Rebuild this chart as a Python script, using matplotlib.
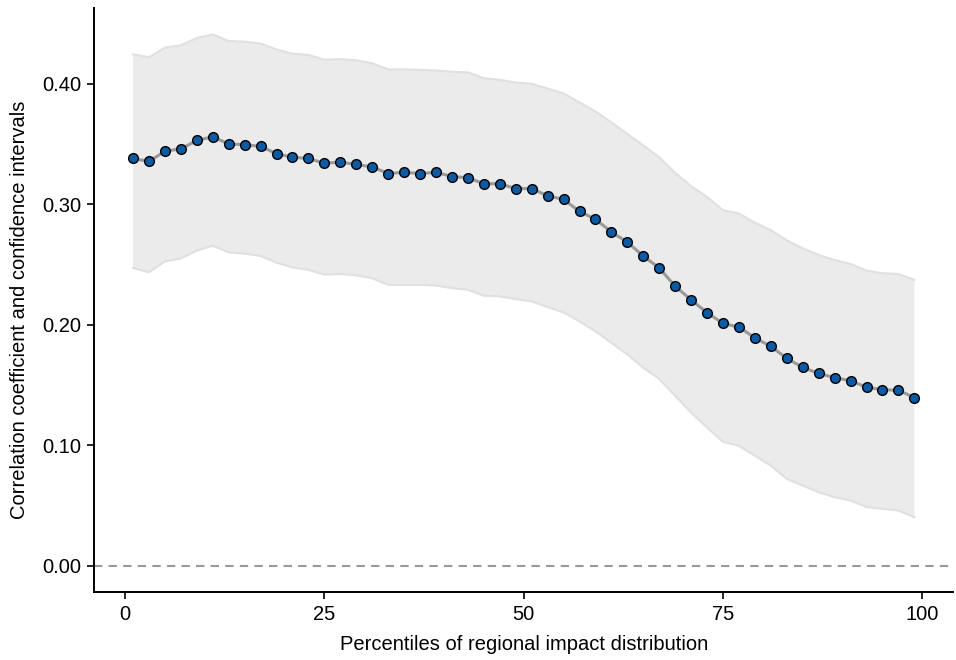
import numpy as np
import matplotlib
matplotlib.use('Agg')
import matplotlib.pyplot as plt

plt.rcParams['font.family'] = ['Liberation Sans', 'DejaVu Sans']

# percentiles 1, 3, ..., 99
pct = np.arange(1, 100, 2)

corr = [0.338, 0.3355, 0.344, 0.346, 0.353, 0.356, 0.350, 0.3495, 0.348, 0.342,
        0.339, 0.338, 0.334, 0.335, 0.333, 0.331, 0.3255, 0.3265, 0.3255, 0.3265,
        0.323, 0.322, 0.317, 0.317, 0.313, 0.313, 0.307, 0.304, 0.294, 0.2875,
        0.277, 0.2685, 0.257, 0.247, 0.232, 0.2205, 0.210, 0.201, 0.198, 0.189,
        0.182, 0.172, 0.1645, 0.1595, 0.156, 0.1535, 0.148, 0.146, 0.1455, 0.1395]

upper = [0.4245, 0.422, 0.430, 0.432, 0.438, 0.441, 0.4355, 0.435, 0.4335, 0.4285,
         0.425, 0.424, 0.420, 0.4205, 0.4195, 0.417, 0.412, 0.412, 0.4116, 0.411,
         0.410, 0.4095, 0.4046, 0.4033, 0.401, 0.400, 0.396, 0.392, 0.3845, 0.377,
         0.368, 0.3584, 0.3488, 0.339, 0.326, 0.315, 0.306, 0.295, 0.2923, 0.2846,
         0.2785, 0.270, 0.2634, 0.2578, 0.2537, 0.2504, 0.2449, 0.2427, 0.2421, 0.2372]

lower = [0.247, 0.2435, 0.2525, 0.255, 0.2615, 0.2655, 0.260, 0.259, 0.257, 0.2515,
         0.2475, 0.2455, 0.2415, 0.242, 0.241, 0.2385, 0.233, 0.233, 0.233, 0.2325,
         0.2303, 0.229, 0.224, 0.2234, 0.2212, 0.2193, 0.2146, 0.2102, 0.2027, 0.1945,
         0.1849, 0.1752, 0.1642, 0.155, 0.1408, 0.127, 0.1146, 0.1027, 0.0994, 0.0912,
         0.0829, 0.0719, 0.0664, 0.0609, 0.0568, 0.054, 0.0485, 0.0471, 0.0457, 0.0402]

xticks = [0, 25, 50, 75, 100]
yticks = [0.0, 0.1, 0.2, 0.3, 0.4]

fig = plt.figure(figsize=(9.56, 6.6), dpi=100)
ax = fig.add_axes([0.0983, 0.103, 0.899, 0.885])

ax.fill_between(pct, lower, upper, facecolor='#ebebeb', edgecolor='none', zorder=1)
ax.plot(pct, upper, color='#e0e0e0', lw=1.5, zorder=1.5)
ax.plot(pct, lower, color='#e0e0e0', lw=1.5, zorder=1.5)
ax.axhline(0, color='#999999', lw=1.5, ls=(0, (4, 3)), zorder=2)
ax.plot(pct, corr, color='#9a9a9a', lw=2.2, zorder=3)
ax.plot(pct, corr, 'o', ms=7, mfc='#0b5aa5', mec='black', mew=1.0, zorder=4)

ax.set_xlim(-3.9, 103.9)
ax.set_ylim(-0.022, 0.463)
ax.set_xticks(xticks)
ax.set_yticks(yticks)
ax.set_yticklabels(['%.2f' % v for v in yticks])

for s in ['top', 'right']:
    ax.spines[s].set_visible(False)
for s in ['left', 'bottom']:
    ax.spines[s].set_linewidth(1.4)
ax.tick_params(axis='both', length=5, width=1.2, labelsize=14.5, colors='black', pad=4)

ax.set_xlabel('Percentiles of regional impact distribution', fontsize=14.5)
ax.set_ylabel('Correlation coefficient and confidence intervals', fontsize=14.5)
ax.xaxis.set_label_coords(0.5, -0.0736)
ax.yaxis.set_label_coords(-0.0756, 0.483)

fig.savefig('out.png', dpi=100)
